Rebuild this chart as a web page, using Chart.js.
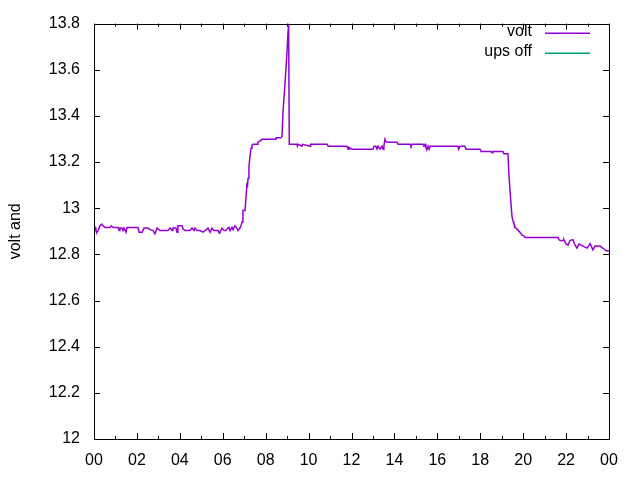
<!DOCTYPE html>
<html>
<head>
<meta charset="utf-8">
<script src="https://cdn.jsdelivr.net/npm/chart.js@4/dist/chart.umd.min.js"></script>
<style>
  html, body { margin: 0; padding: 0; background: #fff; }
</style>
</head>
<body>
<canvas id="voltChart" width="640" height="480"></canvas>
<script>
// hours since midnight, and the voltage read at each
var hours = [
  0.00, 0.05, 0.09, 0.14, 0.19, 0.28, 0.37, 0.42, 0.51, 0.75, 0.80, 0.89, 1.12, 1.17, 1.21, 1.30,
  1.35, 1.40, 1.49, 1.54, 2.05, 2.10, 2.24, 2.33, 2.52, 2.61, 2.75, 2.84, 2.94, 2.98, 3.08, 3.22,
  3.45, 3.54, 3.64, 3.68, 3.82, 3.87, 3.91, 4.10, 4.15, 4.24, 4.47, 4.57, 4.66, 4.71, 4.80, 4.94,
  5.08, 5.17, 5.31, 5.41, 5.50, 5.59, 5.78, 5.83, 5.87, 5.97, 6.06, 6.15, 6.24, 6.29, 6.34, 6.43,
  6.48, 6.57, 6.66, 6.71, 6.80, 6.85,
  6.90, 6.94, 7.04, 7.13, 7.15, 7.18, 7.22, 7.27, 7.32, 7.36, 7.41, 7.60, 7.64, 7.78, 7.83, 8.44,
  8.48, 8.71, 8.76, 8.81, 8.90, 8.99, 9.04, 9.07, 9.10,
  9.13, 9.46, 9.48, 9.51, 9.69, 9.72, 10.07, 10.10, 10.86, 10.91, 11.79, 11.84, 11.88, 12.02, 12.07,
  13.00, 13.05, 13.14, 13.19, 13.24, 13.33, 13.42, 13.47, 13.51, 13.56, 13.60, 13.65, 14.12, 14.17,
  14.73, 14.77, 14.82, 15.33, 15.38, 15.43, 15.47, 15.52, 15.57, 15.62, 15.66, 16.26, 16.96, 16.99,
  17.06, 17.29, 17.34, 17.99, 18.04, 18.50, 18.55, 18.59, 19.06, 19.10, 19.29,
  19.34, 19.43, 19.48, 19.53, 19.57, 19.62, 19.67, 19.76, 19.85, 19.95, 20.04, 20.09, 21.62, 21.67,
  21.72, 21.86, 21.90, 22.00, 22.09, 22.18, 22.32, 22.42, 22.51, 22.60, 22.70, 22.79, 22.98, 23.12,
  23.25, 23.35, 23.58, 23.81, 23.86, 24.00
];
var volts = [
  12.924, 12.917, 12.903, 12.896, 12.903, 12.924, 12.931, 12.924, 12.917, 12.917, 12.924, 12.917, 12.917, 12.903, 12.914, 12.914,
  12.903, 12.914, 12.896, 12.917, 12.917, 12.896, 12.896, 12.914, 12.914, 12.907, 12.903, 12.889, 12.914, 12.914, 12.903, 12.903,
  12.903, 12.914, 12.903, 12.914, 12.914, 12.896, 12.924, 12.924, 12.910, 12.903, 12.903, 12.914, 12.903, 12.914, 12.903, 12.903,
  12.896, 12.903, 12.914, 12.896, 12.914, 12.903, 12.903, 12.893, 12.896, 12.914, 12.903, 12.903, 12.914, 12.917, 12.903, 12.917,
  12.907, 12.924, 12.914, 12.903, 12.914, 12.924,
  12.940, 12.990, 12.990, 13.110, 13.090, 13.130, 13.180, 13.225, 13.260, 13.273, 13.277, 13.277, 13.286, 13.294, 13.299, 13.299,
  13.305, 13.305, 13.310, 13.420, 13.540, 13.670, 13.760, 13.800, 13.277,
  13.277, 13.277, 13.269, 13.277, 13.269, 13.277, 13.269, 13.277, 13.277, 13.269, 13.269, 13.256, 13.264, 13.256, 13.256,
  13.256, 13.269, 13.269, 13.256, 13.269, 13.256, 13.269, 13.256, 13.269, 13.299, 13.290, 13.286, 13.286, 13.277,
  13.277, 13.269, 13.277, 13.277, 13.269, 13.277, 13.264, 13.256, 13.269, 13.256, 13.269, 13.269, 13.269, 13.256,
  13.269, 13.269, 13.256, 13.256, 13.246, 13.246, 13.240, 13.246, 13.246, 13.236, 13.236,
  13.140, 13.020, 12.965, 12.943, 12.930, 12.920, 12.913, 12.905, 12.896, 12.883, 12.879, 12.873, 12.873, 12.864,
  12.860, 12.860, 12.864, 12.845, 12.840, 12.860, 12.864, 12.840, 12.827, 12.845, 12.840, 12.836, 12.827, 12.847,
  12.820, 12.836, 12.836, 12.820, 12.816, 12.816
];
// the "ups off" series has no points in this window
var upsOffHours = [];
var upsOff = [];

var seriesLabels = ['volt', 'ups off'];
var seriesColors = ['#9400d3', '#009e73'];

var yTicks = [12, 12.2, 12.4, 12.6, 12.8, 13, 13.2, 13.4, 13.6, 13.8];
var xTickLabels = ['00', '02', '04', '06', '08', '10', '12', '14', '16', '18', '20', '22', '00'];

function toPoints(xs, ys) {
  return xs.map(function (x, i) { return { x: x, y: ys[i] }; });
}

Chart.defaults.font.family = '"Liberation Sans", Arial, sans-serif';
Chart.defaults.font.size = 16;
Chart.defaults.color = '#000';

// gnuplot style frame: box, inward ticks, key in the top right corner
var gnuplotFrame = {
  id: 'gnuplotFrame',
  afterDraw: function (chart) {
    var ctx = chart.ctx, a = chart.chartArea;
    var xs = chart.scales.x, ys = chart.scales.y;
    ctx.save();
    ctx.strokeStyle = '#000';
    ctx.lineWidth = 1;
    ctx.beginPath();
    for (var h = 0; h <= 24; h++) {
      var px = Math.round(xs.getPixelForValue(h)) + 0.5;
      var len = h % 2 === 0 ? 6 : 3;
      ctx.moveTo(px, a.bottom); ctx.lineTo(px, a.bottom - len);
      ctx.moveTo(px, a.top); ctx.lineTo(px, a.top + len);
    }
    yTicks.forEach(function (v) {
      var py = Math.round(ys.getPixelForValue(v)) + 0.5;
      ctx.moveTo(a.left, py); ctx.lineTo(a.left + 6, py);
      ctx.moveTo(a.right, py); ctx.lineTo(a.right - 6, py);
    });
    ctx.stroke();
    ctx.strokeRect(Math.round(a.left) + 0.5, Math.round(a.top) + 0.5,
                   Math.round(a.right - a.left), Math.round(a.bottom - a.top));

    // key
    ctx.font = '16px "Liberation Sans", Arial, sans-serif';
    ctx.textAlign = 'right';
    ctx.textBaseline = 'middle';
    for (var i = 0; i < seriesLabels.length; i++) {
      var y = 32 + i * 20;
      ctx.fillStyle = '#000';
      ctx.fillText(seriesLabels[i], 532, y);
      ctx.fillStyle = seriesColors[i];
      ctx.fillRect(545, y + 0.5, 45, 1.5);
    }
    ctx.restore();
  }
};

var voltChart = new Chart(document.getElementById('voltChart'), {
  type: 'line',
  data: {
    datasets: [{
      label: seriesLabels[0],
      data: toPoints(hours, volts),
      borderColor: seriesColors[0],
      borderWidth: 1.5,
      pointRadius: 0,
      tension: 0,
      fill: false
    }, {
      label: seriesLabels[1],
      data: toPoints(upsOffHours, upsOff),
      borderColor: seriesColors[1],
      borderWidth: 1.5,
      pointRadius: 0,
      fill: false
    }]
  },
  options: {
    responsive: false,
    animation: false,
    devicePixelRatio: 1,
    events: [],
    layout: { padding: { top: 19, right: 31, left: 0, bottom: 0 } },
    plugins: {
      legend: { display: false },
      tooltip: { enabled: false }
    },
    scales: {
      x: {
        type: 'linear',
        min: 0,
        max: 24,
        grid: { drawOnChartArea: false, drawTicks: false },
        border: { display: false },
        ticks: {
          stepSize: 2,
          padding: 12,
          maxRotation: 0,
          autoSkip: false,
          callback: function (value) { return xTickLabels[Math.round(value / 2)]; }
        },
        afterFit: function (scale) { scale.height = 41; }
      },
      y: {
        min: 12,
        max: 13.8,
        grid: { drawOnChartArea: false, drawTicks: false },
        border: { display: false },
        afterBuildTicks: function (scale) {
          scale.ticks = yTicks.map(function (v) { return { value: v }; });
        },
        ticks: {
          padding: 14,
          callback: function (value) { return String(Math.round(value * 10) / 10); }
        },
        title: {
          display: true,
          text: 'volt and',
          padding: { top: 6, bottom: 0 }
        },
        afterFit: function (scale) { scale.width = 94; }
      }
    }
  },
  plugins: [gnuplotFrame]
});
</script>
</body>
</html>
